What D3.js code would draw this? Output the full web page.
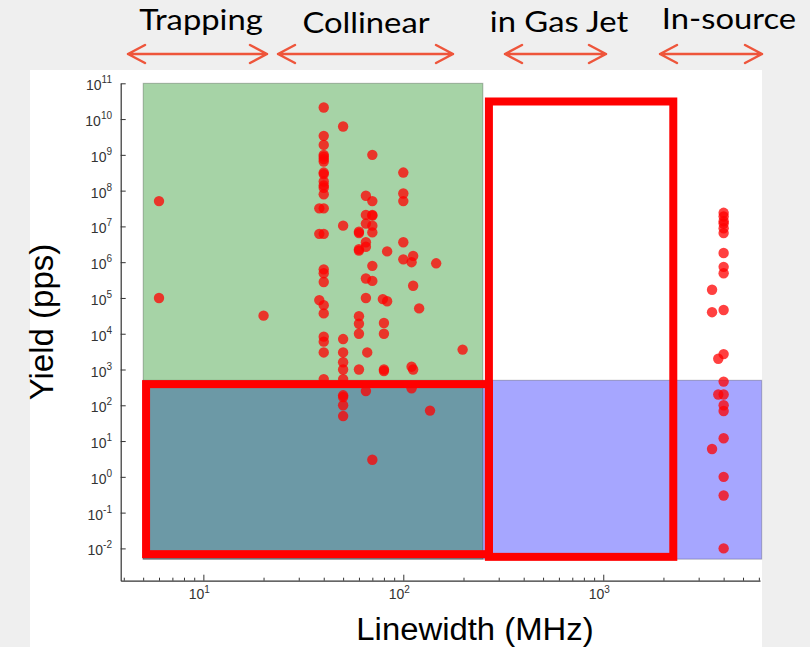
<!DOCTYPE html>
<html>
<head>
<meta charset="utf-8">
<script src="https://cdn.jsdelivr.net/npm/d3@7"></script>
<style>
  html, body { margin: 0; padding: 0; background: #efefef; }
  svg { display: block; }
</style>
</head>
<body>
<svg id="chart" width="810" height="647"></svg>
<script>
// Technique headers shown above the plot
const techniques = ["Trapping", "Collinear", "in Gas Jet", "In-source"];

// Measurements: linewidth (MHz) and yield (particles per second)
const linewidth = [
  6, 6, 20,
  40, 40, 40, 40, 40, 40, 40, 40, 40, 40, 40, 40, 40, 38, 40, 38, 40,
  40, 40, 40, 38, 40, 40, 40, 40, 40, 40,
  50, 50, 50, 50, 50, 50, 50, 50, 50, 50, 50,
  60, 60, 60, 60, 60, 60, 60, 60,
  65, 65, 65, 65, 65, 65, 65, 66, 65,
  70, 70, 70, 70, 70, 70, 70, 70, 70,
  83, 79, 83, 80, 80, 80, 80,
  100, 100, 100, 100, 100,
  112, 110, 112, 110, 112, 110,
  120, 146, 136, 198,
  4000, 4000, 4000, 4000, 4000, 4000, 4000, 4000, 4000, 3500, 3500, 4000,
  4000, 3760, 4000, 3760, 4000, 4000, 4000, 4000, 3500, 4000, 4000, 4000
];
const yieldPps = [
  5.1e7, 1e5, 3.2e4,
  2.1e10, 3.4e9, 1.9e9, 1.0e9, 8.9e8, 7.6e8, 6.5e8, 3.2e8, 2.9e8, 1.8e8, 1.4e8, 1.2e8, 7.9e7, 3.2e7, 3.2e7, 6.2e6, 6.2e6,
  6.3e5, 4.9e5, 2.8e5, 8.7e4, 6.3e4, 3.7e4, 8.3e3, 6.0e3, 3.0e3, 5.4e2,
  6.2e9, 1.05e7, 7.1e3, 3.0e3, 1.6e3, 1.0e3, 5.4e2, 1.9e2, 1.7e2, 1.0e2, 50,
  7.1e6, 6.5e6, 2.3e6, 2.1e6, 3.1e4, 1.9e4, 1.0e4, 1.0e3,
  7.2e7, 2.1e7, 1.2e7, 3.6e6, 2.7e6, 3.5e5, 1.0e5, 3.0e3, 2.5e2,
  1.0e9, 5.1e7, 2.1e7, 2.0e7, 1.05e7, 6.8e6, 7.9e5, 3.0e5, 3.0,
  2.0e6, 9.3e4, 8.1e4, 2.0e4, 1.0e4, 1.0e3, 9.1e2,
  3.2e8, 8.3e7, 5.1e7, 3.6e6, 1.2e6,
  1.5e6, 1.0e6, 2.2e5, 1.2e3, 1.0e3, 3.0e2,
  5.1e4, 9.3e5, 71, 3.6e3,
  2.4e7, 1.9e7, 1.4e7, 1.2e7, 8.9e6, 6.5e6, 1.8e6, 7.4e5, 4.9e5, 1.7e5, 4.0e4, 4.6e4,
  2.7e3, 2.0e3, 4.6e2, 2.0e2, 2.0e2, 1.0e2, 69, 12, 6.0, 1.0, 0.3, 0.01
];

// Shaded accessible regions [xmin, xmax, ymin, ymax]
const blueRegion = [5, 6200, 0.005, 500];
const greenRegion = [5, 250, 0.005, 1e11];
// Outlined boxes [xmin, xmax, ymin, ymax]
const outlineBoxes = [
  [5.17, 268, 0.0069, 390],
  [268, 2240, 0.0058, 3.1e10]
];

const xDomain = [3.86, 6080];
const yDomain = [0.00125, 1e11];
const xTickExps = [1, 2, 3];
const yTickExps = [-2, -1, 0, 1, 2, 3, 4, 5, 6, 7, 8, 9, 10, 11];

const svg = d3.select("#chart");

// White plotting panel
svg.append("rect").attr("x", 30).attr("y", 70).attr("width", 732).attr("height", 577).attr("fill", "#ffffff");

const x = d3.scaleLog().domain(xDomain).range([120.7, 760]);
const y = d3.scaleLog().domain(yDomain).range([580.7, 83.3]);

function region(g, r, color) {
  g.append("rect")
    .attr("x", x(r[0])).attr("y", y(r[3]))
    .attr("width", x(r[1]) - x(r[0])).attr("height", y(r[2]) - y(r[3]))
    .attr("fill", color).attr("fill-opacity", 0.35)
    .attr("stroke", "#000").attr("stroke-opacity", 0.25).attr("stroke-width", 1);
}
const regions = svg.append("g");
region(regions, blueRegion, "#0000ff");
region(regions, greenRegion, "#008000");

// Data points
const pts = d3.range(linewidth.length).map(i => ({x: linewidth[i], y: yieldPps[i]}));
svg.append("g").selectAll("circle").data(pts).join("circle")
  .attr("cx", d => x(d.x)).attr("cy", d => y(d.y)).attr("r", 5.2)
  .attr("fill", "#ff0000").attr("fill-opacity", 0.75);

// Outlined boxes
svg.append("g").selectAll("rect").data(outlineBoxes).join("rect")
  .attr("x", d => x(d[0])).attr("y", d => y(d[3]))
  .attr("width", d => x(d[1]) - x(d[0])).attr("height", d => y(d[2]) - y(d[3]))
  .attr("fill", "none").attr("stroke", "#ff0000").attr("stroke-width", 8);

// Axes
const axisColor = "#333";
const xAxis = d3.axisBottom(x)
  .tickValues(d3.range(0, 4).flatMap(e => d3.range(1, 10).map(m => m * Math.pow(10, e))).filter(v => v >= xDomain[0] && v <= xDomain[1]))
  .tickSize(0).tickFormat("");
const gx = svg.append("g").attr("transform", "translate(0,580.7)").call(xAxis);
gx.select(".domain").attr("stroke", axisColor).attr("stroke-width", 1.2);
gx.selectAll(".tick line")
  .attr("stroke", axisColor)
  .attr("y2", d => (Math.abs(Math.log10(d) - Math.round(Math.log10(d))) < 1e-9) ? -6 : -3);

const xLabels = svg.append("g");
xTickExps.forEach(e => {
  const t = xLabels.append("text").attr("x", x(Math.pow(10, e)) - 4).attr("y", 599)
    .attr("text-anchor", "middle").attr("font-family", "Liberation Sans, Arial, sans-serif")
    .attr("font-size", 14).attr("fill", axisColor);
  t.append("tspan").text("10");
  t.append("tspan").attr("dy", -6).attr("font-size", 10).text(e);
});

const yAxis = d3.axisLeft(y).tickValues(yTickExps.map(e => Math.pow(10, e))).tickSize(0).tickFormat("");
const gy = svg.append("g").attr("transform", "translate(120.7,0)").call(yAxis);
gy.select(".domain").attr("stroke", axisColor).attr("stroke-width", 1.2);
gy.selectAll(".tick line").attr("stroke", axisColor).attr("x2", 5);

const yLabels = svg.append("g");
yTickExps.forEach(e => {
  const t = yLabels.append("text").attr("x", 112).attr("y", y(Math.pow(10, e)) + 7)
    .attr("text-anchor", "end").attr("font-family", "Liberation Sans, Arial, sans-serif")
    .attr("font-size", 14).attr("fill", axisColor);
  t.append("tspan").text("10");
  t.append("tspan").attr("dy", -7).attr("font-size", 10).text(e);
});

// Axis titles
svg.append("text").attr("transform", "translate(53,322) rotate(-90)")
  .attr("text-anchor", "middle").attr("font-family", "Liberation Sans, Arial, sans-serif")
  .attr("font-size", 33).attr("fill", "#000").text("Yield (pps)");
svg.append("text").attr("transform", "translate(475,640) scale(1.06,1)")
  .attr("text-anchor", "middle").attr("font-family", "Liberation Sans, Arial, sans-serif")
  .attr("font-size", 31).attr("fill", "#000").text("Linewidth (MHz)");

// Technique headers with double-headed arrows
const headerX = [201, 366, 559, 729];
const headerY = [30, 33, 32, 29];
const arrowSpans = [[128, 267], [278, 453], [505, 606], [660, 762]];
const arrowColor = "#ee553b";
const head = svg.append("g");
techniques.forEach((name, i) => {
  head.append("text").attr("transform", `translate(${headerX[i]},${headerY[i]}) scale(1.17,1)`)
    .attr("text-anchor", "middle").attr("font-family", "Lato, sans-serif")
    .attr("font-size", 28).attr("fill", "#000").text(name);
  const [a, b] = arrowSpans[i];
  const yy = 54, hl = 17, hh = 9;
  head.append("path")
    .attr("d", `M${a},${yy}L${b},${yy}M${a + hl},${yy - hh}L${a},${yy}L${a + hl},${yy + hh}M${b - hl},${yy - hh}L${b},${yy}L${b - hl},${yy + hh}`)
    .attr("fill", "none").attr("stroke", arrowColor).attr("stroke-width", 2.5)
    .attr("stroke-linecap", "round").attr("stroke-linejoin", "round");
});
</script>
</body>
</html>
